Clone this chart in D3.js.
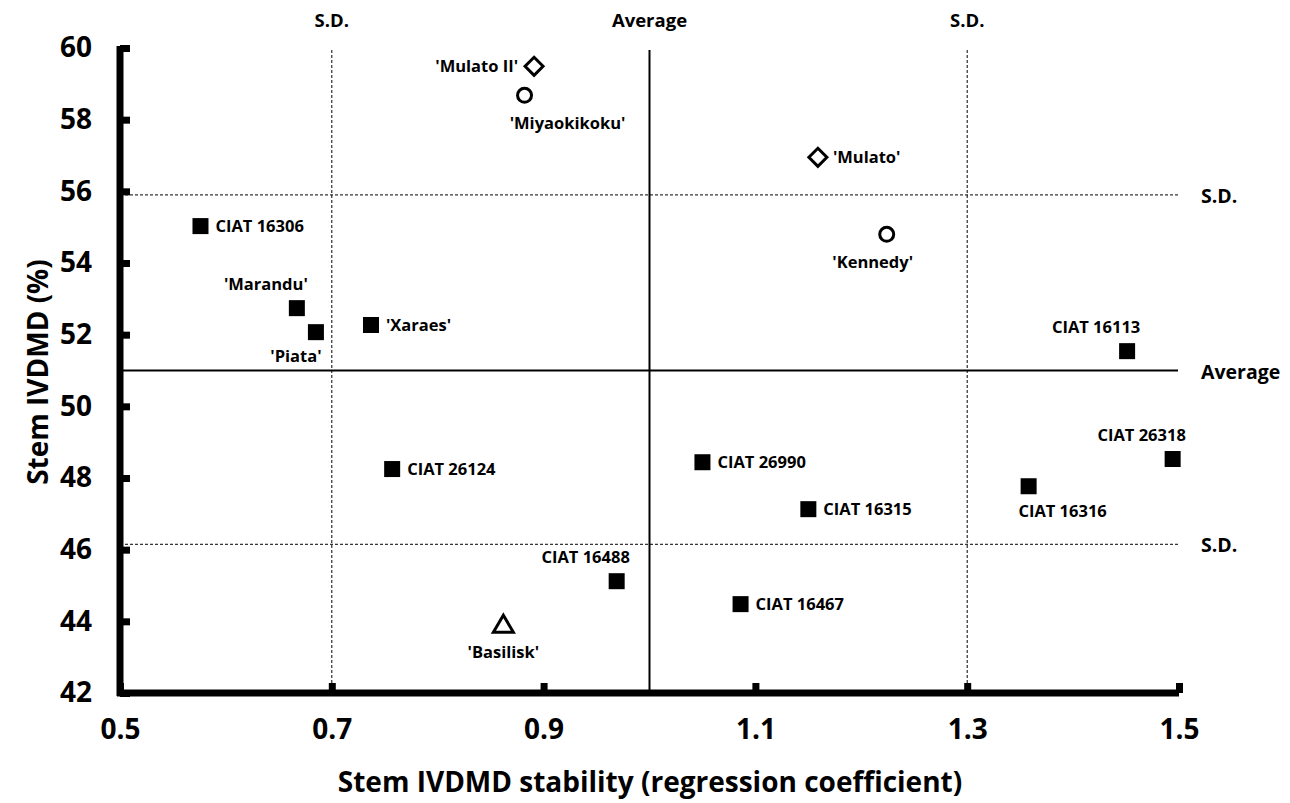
<!DOCTYPE html>
<html>
<head>
<meta charset="utf-8">
<script src="https://cdn.jsdelivr.net/npm/d3@7"></script>
<style>
  html, body { margin: 0; padding: 0; background: #fff; }
  svg { display: block; font-family: "Open Sans", Lato, sans-serif; font-weight: 700; }
</style>
</head>
<body>
<svg id="chart" width="1290" height="803"></svg>
<script>
// Accessions: name, stability (regression coefficient), stem IVDMD (%), marker type, label placement
const names = ["'Mulato II'", "'Miyaokikoku'", "'Mulato'", "'Kennedy'", "CIAT 16306", "'Marandu'", "'Piata'", "'Xaraes'",
  "CIAT 16113", "CIAT 26318", "CIAT 16316", "CIAT 26124", "CIAT 26990", "CIAT 16315", "CIAT 16488", "CIAT 16467", "'Basilisk'"];
const stability = [0.891, 0.882, 1.159, 1.224, 0.576, 0.667, 0.685, 0.737, 1.451, 1.494, 1.358, 0.757, 1.050, 1.150, 0.969, 1.086, 0.862];
const ivdmd = [59.49, 58.68, 56.95, 54.80, 55.03, 52.74, 52.07, 52.27, 51.54, 48.53, 47.77, 48.25, 48.44, 47.13, 45.12, 44.48, 43.92];
const markers = ["diamond", "circle", "diamond", "circle", "square", "square", "square", "square",
  "square", "square", "square", "square", "square", "square", "square", "square", "triangle"];
const labelPos = ["left", "below", "right", "below", "right", "aboveLeft", "belowLeft", "right",
  "aboveLeft", "aboveLeft", "belowRight", "right", "right", "right", "aboveLeft", "right", "below"];

const xTicks = [0.5, 0.7, 0.9, 1.1, 1.3, 1.5];
const yTicks = [42, 44, 46, 48, 50, 52, 54, 56, 58, 60];

// Reference lines: mean and mean ± S.D. for each axis
const xAverage = 1.0, xSdLow = 0.7, xSdHigh = 1.3;
const yAverage = 51.0, ySdLow = 46.15, ySdHigh = 55.9;

const svg = d3.select("#chart");
const x = d3.scaleLinear().domain([0.5, 1.5]).range([120, 1179]);
const y = d3.scaleLinear().domain([42, 60]).range([693, 48]);

// Reference lines
const refs = svg.append("g");
[[xSdLow, "3,2", 1], [xSdHigh, "3,2", 1], [xAverage, null, 2]].forEach(([v, dash, w]) => {
  refs.append("line").attr("x1", x(v)).attr("x2", x(v)).attr("y1", y(60) + 2).attr("y2", y(42))
    .attr("stroke", "#000").attr("stroke-width", w).attr("stroke-dasharray", dash);
});
[[ySdHigh, "3,2", 1], [ySdLow, "3,2", 1], [yAverage, null, 2]].forEach(([v, dash, w]) => {
  refs.append("line").attr("x1", x(0.5)).attr("x2", x(1.5) - 1).attr("y1", y(v)).attr("y2", y(v))
    .attr("stroke", "#000").attr("stroke-width", w).attr("stroke-dasharray", dash);
});

// Reference line labels
const refLab = svg.append("g").attr("fill", "#000");
[[xSdLow, "S.D."], [xAverage, "Average"], [xSdHigh, "S.D."]].forEach(([v, t]) => {
  refLab.append("text").attr("x", x(v)).attr("y", 27).attr("font-size", 18.5).attr("text-anchor", "middle").text(t);
});
[[ySdHigh, "S.D."], [yAverage, "Average"], [ySdLow, "S.D."]].forEach(([v, t]) => {
  refLab.append("text").attr("x", 1201).attr("y", y(v) + 8).attr("font-size", 19.5).text(t);
});

// Axes
const axes = svg.append("g");
axes.append("line").attr("x1", x(0.5)).attr("x2", x(0.5)).attr("y1", y(60) - 2).attr("y2", y(42) + 3)
  .attr("stroke", "#000").attr("stroke-width", 7);
axes.append("line").attr("x1", x(0.5) - 3).attr("x2", x(1.5)).attr("y1", y(42)).attr("y2", y(42))
  .attr("stroke", "#000").attr("stroke-width", 7);

const yAxis = d3.axisLeft(y).tickValues(yTicks).tickSize(0).tickPadding(28).tickFormat(d3.format("d"));
const gy = svg.append("g").attr("transform", `translate(${x(0.5)},0)`).call(yAxis);
gy.select(".domain").remove();
gy.selectAll("text").attr("font-size", 28).attr("font-family", "'Open Sans', sans-serif").attr("font-weight", 700).attr("fill", "#000");
gy.selectAll(".tick").append("rect").attr("x", 0).attr("y", -3.5).attr("width", 10).attr("height", 7).attr("fill", "#000");

const xAxis = d3.axisBottom(x).tickValues(xTicks).tickSize(0).tickPadding(26).tickFormat(d3.format(".1f"));
const gx = svg.append("g").attr("transform", `translate(0,${y(42)})`).call(xAxis);
gx.select(".domain").remove();
gx.selectAll("text").attr("font-size", 28).attr("font-family", "'Open Sans', sans-serif").attr("font-weight", 700).attr("fill", "#000");
gx.selectAll(".tick").append("rect").attr("x", -3.5).attr("y", -10).attr("width", 7).attr("height", 10).attr("fill", "#000");

// Axis titles
svg.append("text").attr("x", 650).attr("y", 792).attr("text-anchor", "middle").attr("font-size", 28)
  .text("Stem IVDMD stability (regression coefficient)");
svg.append("text").attr("transform", "translate(48,372) rotate(-90)").attr("text-anchor", "middle").attr("font-size", 28)
  .text("Stem IVDMD (%)");

// Points
const data = names.map((n, i) => ({ name: n, sx: stability[i], sy: ivdmd[i], marker: markers[i], pos: labelPos[i] }));
const pts = svg.append("g");
data.forEach(d => {
  const cx = x(d.sx), cy = y(d.sy);
  if (d.marker === "square") {
    pts.append("rect").attr("x", cx - 8).attr("y", cy - 8).attr("width", 16).attr("height", 16).attr("fill", "#000");
  } else if (d.marker === "circle") {
    pts.append("circle").attr("cx", cx).attr("cy", cy).attr("r", 7).attr("fill", "#fff").attr("stroke", "#000").attr("stroke-width", 3);
  } else if (d.marker === "diamond") {
    pts.append("path").attr("d", `M${cx},${cy - 9}L${cx + 9},${cy}L${cx},${cy + 9}L${cx - 9},${cy}Z`)
      .attr("fill", "#fff").attr("stroke", "#000").attr("stroke-width", 3);
  } else if (d.marker === "triangle") {
    pts.append("path").attr("d", `M${cx},${cy - 9}L${cx + 10},${cy + 8}L${cx - 10},${cy + 8}Z`)
      .attr("fill", "#fff").attr("stroke", "#000").attr("stroke-width", 3).attr("stroke-linejoin", "miter");
  }
  const t = pts.append("text").attr("font-size", 16.5).attr("fill", "#000").text(d.name);
  if (d.pos === "right") t.attr("x", cx + 15).attr("y", cy + 6);
  else if (d.pos === "left") t.attr("x", cx - 16).attr("y", cy + 6).attr("text-anchor", "end");
  else if (d.pos === "below") t.attr("x", cx + (d.marker === "circle" && cx < 600 ? 43 : (d.marker === "circle" ? -14 : 0))).attr("y", cy + 34).attr("text-anchor", "middle");
  else if (d.pos === "aboveLeft") t.attr("x", cx - 31).attr("y", cy - 18).attr("text-anchor", "middle");
  else if (d.pos === "belowLeft") t.attr("x", cx - 20).attr("y", cy + 30).attr("text-anchor", "middle");
  else if (d.pos === "belowRight") t.attr("x", cx + 34).attr("y", cy + 31).attr("text-anchor", "middle");
});
</script>
</body>
</html>
